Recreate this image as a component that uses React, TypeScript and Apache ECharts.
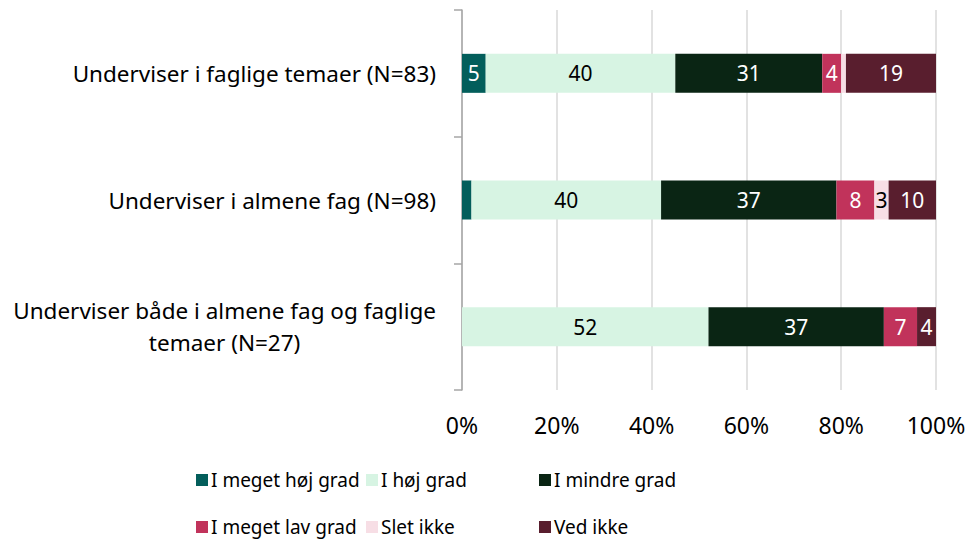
import React, { useEffect, useRef } from "react";
import * as echarts from "echarts";

const categories = [
  "Underviser i faglige temaer (N=83)",
  "Underviser i almene fag (N=98)",
  "Underviser både i almene fag og faglige\ntemaer (N=27)",
];
const seriesNames = [
  "I meget høj grad",
  "I høj grad",
  "I mindre grad",
  "I meget lav grad",
  "Slet ikke",
  "Ved ikke",
];
const meget_hoej = [5, 2, 0];
const hoej = [40, 40, 52];
const mindre = [31, 37, 37];
const meget_lav = [4, 8, 7];
const slet_ikke = [1, 3, 0];
const ved_ikke = [19, 10, 4];
const xTicks = [0, 20, 40, 60, 80, 100];

const colors = ["#035E5B", "#D7F4E3", "#0A2514", "#C1335B", "#F7DEE5", "#591E2E"];
const labelColors = ["#ffffff", "#000000", "#ffffff", "#ffffff", "#000000", "#ffffff"];
const FONT = "'Noto Sans', 'Open Sans', sans-serif";

export default function App() {
  const ref = useRef<HTMLDivElement>(null);
  useEffect(() => {
    if (!ref.current) return;
    const chart = echarts.init(ref.current, undefined, { renderer: "svg" });
    const values = [meget_hoej, hoej, mindre, meget_lav, slet_ikke, ved_ikke];
    const series = values.map((vals, i) => ({
      name: seriesNames[i],
      type: "bar",
      stack: "total",
      barWidth: 39,
      data: vals,
      itemStyle: { color: colors[i] },
      label: {
        show: true,
        position: "inside",
        color: labelColors[i],
        fontSize: 21,
        fontFamily: FONT,
        formatter: (p: any) => (p.value >= 3 ? String(p.value) : ""),
      },
    }));
    const legendCols = [
      [seriesNames[0], seriesNames[3]],
      [seriesNames[1], seriesNames[4]],
      [seriesNames[2], seriesNames[5]],
    ];
    const legendLefts = [196, 366, 539];
    chart.setOption({
      animation: false,
      grid: { left: 462, right: 39, top: 10, bottom: 151, containLabel: false },
      xAxis: {
        type: "value",
        min: 0,
        max: 100,
        interval: 20,
        axisLine: { show: false },
        axisTick: { show: false },
        splitLine: { show: true, lineStyle: { color: "#D9D9D9", width: 1.5 } },
        axisLabel: {
          margin: 23,
          fontSize: 23,
          color: "#000",
          fontFamily: FONT,
          customValues: xTicks,
          formatter: (v: number) => v + "%",
        },
      },
      yAxis: {
        type: "category",
        inverse: true,
        data: categories,
        axisLine: { show: true, lineStyle: { color: "#A6A6A6", width: 1.5 } },
        axisTick: { show: true, length: 8, lineStyle: { color: "#A6A6A6", width: 1.5 } },
        axisLabel: {
          margin: 26,
          fontSize: 22.5,
          color: "#000",
          fontFamily: FONT,
          lineHeight: 32,
          formatter: (v: string) =>
            v
              .split("\n")
              .map((l) => "{c|" + l + "}")
              .join("\n"),
          rich: {
            c: { align: "center", fontSize: 22.5, fontFamily: FONT, color: "#000", lineHeight: 32 },
          },
        },
      },
      legend: legendCols.map((d, i) => ({
        data: d,
        orient: "vertical",
        left: legendLefts[i],
        top: 470,
        padding: 0,
        itemWidth: 12,
        itemHeight: 12,
        itemGap: 27,
        icon: "rect",
        textStyle: { fontSize: 19, fontFamily: FONT, color: "#000", lineHeight: 20, padding: [0, 0, 0, -2] },
      })),
      series,
    });
    return () => chart.dispose();
  }, []);
  return <div ref={ref} style={{ width: 975, height: 541, position: "absolute", left: 0, top: 0 }} />;
}
